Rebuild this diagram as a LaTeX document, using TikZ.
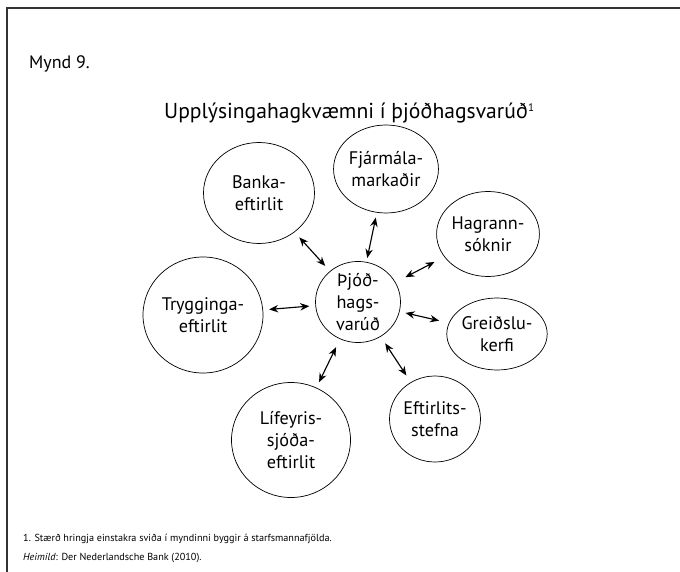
\documentclass[tikz,border=0pt]{standalone}
\usepackage{fontspec}
\setmainfont{PT Sans}
\usepackage{tikz}
\usetikzlibrary{shapes.geometric,arrows.meta}
\tikzstyle{field} = [ellipse, draw, line width=0.25mm, inner sep=0pt, align=center, text centered, font=\fontsize{18.2}{22}\selectfont]
\tikzstyle{connector} = [line width=0.4mm, {Stealth[length=3.2mm,width=2.6mm]}-{Stealth[length=3.2mm,width=2.6mm]}, shorten <=7pt, shorten >=7pt]
\tikzstyle{frame} = [line width=0.45mm, draw=black!80]

\begin{document}
\begin{tikzpicture}[x=1pt, y=-1pt]
        \useasboundingbox (0,0) rectangle (680,572);
        \draw [frame] (680,8) -- (7,8) -- (7,572);
        \node (fig) [anchor=base west, inner sep=0pt, font=\fontsize{18}{20}\selectfont] at (29,69) {Mynd 9.};
        \node (title) [anchor=base west, inner sep=0pt, font=\fontsize{21.6}{26}\selectfont] at (164,119) {Upplýsingahagkvæmni í þjóðhagsvarúð\textsuperscript{\fontsize{11}{12}\selectfont 1}};
        \node (varud) [field, minimum width=85pt, minimum height=81pt] at (358,302) {Þjóð-\\hags-\\varúð};
        \node (bank) [field, minimum width=111pt, minimum height=101pt] at (259,193) {Banka-\\eftirlit};
        \node (fjarm) [field, minimum width=88pt, minimum height=88pt] at (386,169) {Fjármála-\\markaðir};
        \node (hagr) [field, minimum width=90pt, minimum height=85pt] at (488,234) {Hagrann-\\sóknir};
        \node (trygg) [field, minimum width=120pt, minimum height=116pt] at (203,315) {Trygginga-\\eftirlit};
        \node (greid) [field, minimum width=88pt, minimum height=72pt] at (497,334) {Greiðslu-\\kerfi};
        \node (lif) [field, minimum width=119pt, minimum height=115pt] at (291,440) {Lífeyris-\\sjóða-\\eftirlit};
        \node (eftirl) [field, minimum width=91pt, minimum height=86pt] at (435,419) {Eftirlits-\\stefna};
        \node (note) [anchor=base west, inner sep=0pt, font=\fontsize{10.2}{13}\selectfont] at (23,541) {1. Stærð hringja einstakra sviða í myndinni byggir á starfsmannafjölda.};
        \node (source) [anchor=base west, inner sep=0pt, font=\fontsize{10.2}{13}\selectfont] at (23,560) {\textit{Heimild}: Der Nederlandsche Bank (2010).};
        \draw [connector] (bank) -- (varud);
        \draw [connector, shorten <=5pt, shorten >=4pt] (fjarm) -- (varud);
        \draw [connector, shorten <=11pt, shorten >=11pt] (hagr) -- (varud);
        \draw [connector, shorten <=6pt, shorten >=6pt] (trygg) -- (varud);
        \draw [connector, shorten <=10pt, shorten >=6pt] (greid) -- (varud);
        \draw [connector, shorten <=6pt, shorten >=9pt] (lif) -- (varud);
        \draw [connector, shorten <=8pt, shorten >=8pt] (eftirl) -- (varud);
    \end{tikzpicture}
\end{document}
